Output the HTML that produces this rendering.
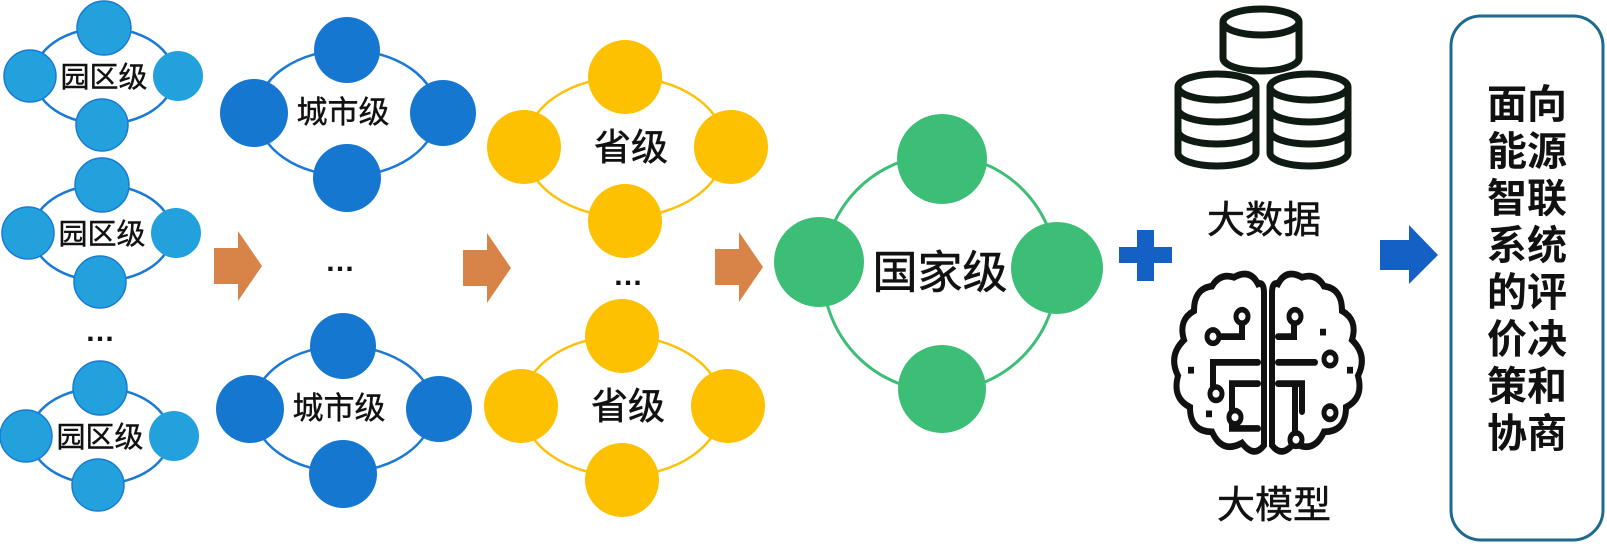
<!DOCTYPE html>
<html><head><meta charset="utf-8"><style>
html,body{margin:0;padding:0;background:#fff;}
svg text{font-family:"Liberation Sans","Noto Sans CJK SC",sans-serif;}
</style></head><body>
<svg width="1607" height="545" viewBox="0 0 1607 545" xmlns="http://www.w3.org/2000/svg">
<defs>
<g id="park">
<ellipse cx="0" cy="0" rx="70" ry="48" fill="none" stroke="#1a7ad4" stroke-width="2.5"/>
<circle cx="0" cy="-48" r="27" fill="#22a1dd" stroke="#1a7ad4" stroke-width="1.5"/>
<circle cx="-74" cy="0" r="26" fill="#22a1dd" stroke="#1a7ad4" stroke-width="1.5"/>
<circle cx="74" cy="0" r="25" fill="#22a1dd"/>
<circle cx="-2" cy="49" r="26" fill="#22a1dd" stroke="#1a7ad4" stroke-width="1.5"/>
<text x="0" y="11" font-size="29" text-anchor="middle" fill="#111" stroke="#111" stroke-width="0.4">园区级</text>
</g>
<g id="city">
<ellipse cx="0" cy="0" rx="90" ry="63" fill="none" stroke="#1a7ad4" stroke-width="2.5"/>
<circle cx="0" cy="-63" r="33" fill="#1577d0"/>
<circle cx="-93" cy="0" r="34" fill="#1577d0"/>
<circle cx="96" cy="0" r="33" fill="#1577d0"/>
<circle cx="0" cy="65" r="34" fill="#1577d0"/>
<text x="-4" y="10" font-size="31" text-anchor="middle" fill="#111" stroke="#111" stroke-width="0.4">城市级</text>
</g>
<g id="prov">
<ellipse cx="0" cy="0" rx="100" ry="70" fill="none" stroke="#fcc10a" stroke-width="2.5"/>
<circle cx="0" cy="-70" r="37" fill="#fdc101"/>
<circle cx="-101" cy="0" r="37" fill="#fdc101"/>
<circle cx="106" cy="0" r="37" fill="#fdc101"/>
<circle cx="0" cy="74" r="37" fill="#fdc101"/>
<text x="6" y="13" font-size="37" text-anchor="middle" fill="#111" stroke="#111" stroke-width="0.6">省级</text>
</g>
<g id="oarr"><polygon points="0,17 24,17 24,0 48,35 24,70 24,53 0,53" fill="#d88448"/></g>
</defs>

<use href="#park" x="104" y="76"/>
<use href="#park" x="102" y="233"/>
<use href="#park" x="100" y="436"/>
<text x="100" y="341" font-size="30" font-weight="bold" text-anchor="middle" fill="#111">…</text>

<use href="#city" x="347" y="113"/>
<use href="#city" x="343" y="409"/>
<text x="340" y="271" font-size="30" font-weight="bold" text-anchor="middle" fill="#111">…</text>

<use href="#prov" x="625" y="147"/>
<use href="#prov" x="622" y="406"/>
<text x="628" y="285" font-size="30" font-weight="bold" text-anchor="middle" fill="#111">…</text>

<use href="#oarr" x="214" y="231"/>
<use href="#oarr" x="463" y="233"/>
<use href="#oarr" x="715" y="232"/>

<ellipse cx="940" cy="273" rx="117" ry="118" fill="none" stroke="#3dbe77" stroke-width="3"/>
<circle cx="942" cy="159" r="45" fill="#3dbe77"/>
<circle cx="819" cy="262" r="45" fill="#3dbe77"/>
<circle cx="1057" cy="268" r="46" fill="#3dbe77"/>
<circle cx="942" cy="389" r="44" fill="#3dbe77"/>
<text x="940" y="288" font-size="45" text-anchor="middle" fill="#111" stroke="#111" stroke-width="0.6">国家级</text>

<!-- plus -->
<rect x="1137" y="230" width="17" height="51" fill="#1560c4"/>
<rect x="1119" y="247" width="53" height="16" fill="#1560c4"/>

<!-- blue arrow -->
<polygon points="1380,240 1409,240 1409,225 1438,255 1409,284 1409,270 1380,270" fill="#1560c4"/>

<!-- database icon -->
<g fill="#fff" stroke="#0e1a12" stroke-width="7">
<path d="M1223 22 v36 a38 13 0 0 0 76 0 v-36"/>
<ellipse cx="1261" cy="22" rx="38" ry="13"/>
<path d="M1178 87 v66 a39 13 0 0 0 78 0 v-66"/>
<path d="M1178 109 a39 13 0 0 0 78 0 M1178 131 a39 13 0 0 0 78 0"/>
<ellipse cx="1217" cy="87" rx="39" ry="13"/>
<path d="M1270 87 v66 a39 13 0 0 0 78 0 v-66"/>
<path d="M1270 109 a39 13 0 0 0 78 0 M1270 131 a39 13 0 0 0 78 0"/>
<ellipse cx="1309" cy="87" rx="39" ry="13"/>
</g>
<text x="1264" y="233" font-size="38" text-anchor="middle" fill="#111" stroke="#111" stroke-width="0.5">大数据</text>

<!-- brain icon -->
<g transform="translate(0,-33) scale(1,1.12)">
<g fill="none" stroke="#111" stroke-width="6" stroke-linecap="round">
<path d="M1258 283 q-8 -14 -24 -6 q-14 -4 -22 8 q-18 2 -18 22 q-16 8 -10 26 q-16 14 -6 32 q-6 20 12 28 q0 22 22 22 q10 20 30 10 q12 14 22 2 v-136 q0 -10 -6 -8z"/>
<path d="M1278 283 q8 -14 24 -6 q14 -4 22 8 q18 2 18 22 q16 8 10 26 q16 14 6 32 q6 20 -12 28 q0 22 -22 22 q-10 20 -30 10 q-12 14 -22 2 v-136 q0 -10 6 -8z"/>
<path d="M1242 318 v12 h-22 M1258 353 h-45 v25 M1258 372 h-26 v40 h26 M1294 318 v12 h-16 M1278 353 h37 M1278 372 h24 v25 M1295 372 v45"/>
</g>
<g fill="#fff" stroke="#111" stroke-width="5">
<circle cx="1242" cy="312" r="6"/><circle cx="1213" cy="330" r="6"/><circle cx="1216" cy="381" r="6"/>
<circle cx="1235" cy="402" r="6"/><circle cx="1295" cy="312" r="6"/><circle cx="1330" cy="350" r="6"/>
<circle cx="1330" cy="398" r="6"/><circle cx="1296" cy="422" r="6"/>
</g>
<g fill="#111"><rect x="1188" y="357" width="6" height="6"/><rect x="1206" y="396" width="6" height="6"/><rect x="1320" y="323" width="6" height="6"/><rect x="1347" y="357" width="6" height="6"/></g>
</g>
<text x="1274" y="518" font-size="38" text-anchor="middle" fill="#111" stroke="#111" stroke-width="0.5">大模型</text>

<!-- right box -->
<rect x="1451" y="16" width="152" height="524" rx="30" fill="#fff" stroke="#1d6a8c" stroke-width="3"/>
<g font-size="40" font-weight="bold" text-anchor="middle" fill="#111">
<text x="1527" y="118">面向</text>
<text x="1527" y="165">能源</text>
<text x="1527" y="212">智联</text>
<text x="1527" y="259">系统</text>
<text x="1527" y="306">的评</text>
<text x="1527" y="353">价决</text>
<text x="1527" y="400">策和</text>
<text x="1527" y="447">协商</text>
</g>
</svg>
</body></html>
